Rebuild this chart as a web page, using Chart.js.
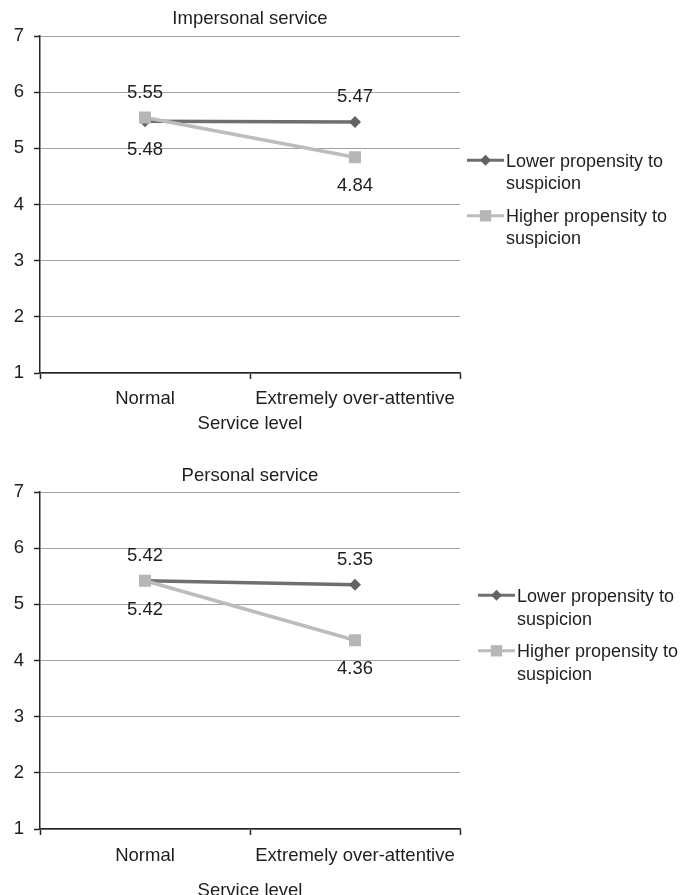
<!DOCTYPE html>
<html>
<head>
<meta charset="utf-8">
<script src="https://cdn.jsdelivr.net/npm/chart.js@4/dist/chart.umd.min.js"></script>
<style>
  html, body { margin: 0; padding: 0; background: #fff; overflow: hidden; }
  #wrap { position: relative; width: 683px; height: 895px; overflow: hidden; }
  canvas { position: absolute; left: 0; }
</style>
</head>
<body>
<div id="wrap">
  <canvas id="impersonal" width="683" height="445" style="top:0"></canvas>
  <canvas id="personal" width="683" height="470" style="top:445px"></canvas>
</div>
<script>
// Categories, series and tick values
const serviceLevels = ['Normal', 'Extremely over-attentive'];
const seriesNames = [['Lower propensity to', 'suspicion'], ['Higher propensity to', 'suspicion']];
const impersonalLower = [5.48, 5.47];
const impersonalHigher = [5.55, 4.84];
const personalLower = [5.42, 5.35];
const personalHigher = [5.42, 4.36];
const yTicks = [1, 2, 3, 4, 5, 6, 7];
const panelTitles = ['Impersonal service', 'Personal service'];
const xAxisTitle = 'Service level';

// Which side of its point each value label sits on
const lowerLabelSide = ['below', 'above'];
const higherLabelSide = ['above', 'below'];

const FONT = '"Liberation Sans", Arial, Helvetica, sans-serif';
const FONT_SIZE = 18.5;
const LEGEND_FONT_SIZE = 18;
const TEXT = '#1e1e1e';
const AXIS = '#262626';
const GRID = '#a3a3a3';
const LOWER_LINE = '#6f6f6f';
const LOWER_MARK = '#636363';
const HIGHER_LINE = '#bcbcbc';
const HIGHER_MARK = '#b6b6b6';

Chart.defaults.font.family = FONT;
Chart.defaults.font.size = FONT_SIZE;
Chart.defaults.color = TEXT;

function drawMarker(ctx, style, x, y, r, color) {
  ctx.save();
  ctx.fillStyle = color;
  ctx.beginPath();
  if (style === 'rectRot') {
    ctx.moveTo(x, y - r);
    ctx.lineTo(x + r, y);
    ctx.lineTo(x, y + r);
    ctx.lineTo(x - r, y);
    ctx.closePath();
  } else {
    const s = r * Math.SQRT1_2;
    ctx.rect(x - s, y - s, 2 * s, 2 * s);
  }
  ctx.fill();
  ctx.restore();
}

// Panel title, value labels and the two-line legend
const panelDecor = {
  id: 'panelDecor',
  afterDatasetsDraw(chart, args, opts) {
    const ctx = chart.ctx;
    const area = chart.chartArea;
    ctx.save();
    ctx.fillStyle = TEXT;
    ctx.font = FONT_SIZE + 'px ' + FONT;

    // title over the plot area
    ctx.textAlign = 'center';
    ctx.textBaseline = 'middle';
    ctx.fillText(opts.title, (area.left + area.right) / 2, opts.titleY);

    // value labels
    chart.data.datasets.forEach((ds, di) => {
      const meta = chart.getDatasetMeta(di);
      meta.data.forEach((pt, i) => {
        const side = ds.labelSide[i];
        const dy = side === 'above' ? opts.labelAbove : opts.labelBelow;
        ctx.fillText(ds.data[i].toFixed(2), pt.x, pt.y + dy);
      });
    });

    // legend
    const lg = opts.legend;
    ctx.font = LEGEND_FONT_SIZE + 'px ' + FONT;
    ctx.textAlign = 'left';
    ctx.textBaseline = 'alphabetic';
    chart.data.datasets.forEach((ds, di) => {
      const base = lg.y + di * lg.entryGap;
      const ly = base - 6.5;
      ctx.strokeStyle = ds.borderColor;
      ctx.lineWidth = 3;
      ctx.beginPath();
      ctx.moveTo(lg.x0, ly);
      ctx.lineTo(lg.x1, ly);
      ctx.stroke();
      const r = ds.pointStyle === 'rectRot' ? 5.5 : 8;
      drawMarker(ctx, ds.pointStyle, (lg.x0 + lg.x1) / 2, ly, r, ds.pointBackgroundColor);
      ctx.fillStyle = TEXT;
      ds.legendLines.forEach((t, k) => {
        ctx.fillText(t, lg.x1 + 2, base + k * lg.lineGap);
      });
    });
    ctx.restore();
  }
};

function makePanel(canvasId, title, lower, higher, lay) {
  return new Chart(document.getElementById(canvasId), {
    type: 'line',
    data: {
      labels: serviceLevels,
      datasets: [
        {
          label: seriesNames[0].join(' '),
          legendLines: seriesNames[0],
          labelSide: lowerLabelSide,
          data: lower,
          borderColor: LOWER_LINE,
          borderWidth: 3.5,
          pointStyle: 'rectRot',
          pointRadius: 6,
          pointBackgroundColor: LOWER_MARK,
          pointBorderColor: LOWER_MARK,
          pointBorderWidth: 0,
          tension: 0,
          order: 1
        },
        {
          label: seriesNames[1].join(' '),
          legendLines: seriesNames[1],
          labelSide: higherLabelSide,
          data: higher,
          borderColor: HIGHER_LINE,
          borderWidth: 3.5,
          pointStyle: 'rect',
          pointRadius: 8.5,
          pointBackgroundColor: HIGHER_MARK,
          pointBorderColor: HIGHER_MARK,
          pointBorderWidth: 0,
          tension: 0,
          order: 0
        }
      ]
    },
    options: {
      responsive: false,
      maintainAspectRatio: false,
      animation: false,
      events: [],
      layout: { padding: { top: lay.top, right: 223, left: 0, bottom: 0 } },
      plugins: {
        legend: { display: false },
        title: { display: false },
        tooltip: { enabled: false },
        panelDecor: {
          title: title,
          titleY: lay.titleY,
          labelAbove: -25,
          labelBelow: 29,
          legend: lay.legend
        }
      },
      scales: {
        x: {
          type: 'category',
          offset: true,
          afterFit: s => { s.height = lay.xHeight; },
          grid: {
            offset: true,
            drawOnChartArea: false,
            drawTicks: true,
            tickLength: 6,
            tickColor: AXIS,
            tickWidth: 1.5
          },
          border: { display: true, color: AXIS, width: 1.5 },
          ticks: { color: TEXT, padding: lay.xLabelPad, maxRotation: 0, autoSkip: false, font: { size: FONT_SIZE } },
          title: {
            display: true,
            text: xAxisTitle,
            color: TEXT,
            font: { size: FONT_SIZE },
            padding: { top: 0, bottom: lay.xTitlePad }
          }
        },
        y: {
          min: yTicks[0],
          max: yTicks[yTicks.length - 1],
          afterFit: s => { s.width = 40; },
          afterBuildTicks: s => { s.ticks = yTicks.map(v => ({ value: v })); },
          grid: {
            color: GRID,
            lineWidth: 1,
            drawTicks: true,
            tickLength: 6,
            tickColor: AXIS,
            tickWidth: 1.5
          },
          border: { display: true, color: AXIS, width: 1.5 },
          ticks: { color: TEXT, padding: 10, font: { size: FONT_SIZE } }
        }
      }
    },
    plugins: [panelDecor]
  });
}

makePanel('impersonal', panelTitles[0], impersonalLower, impersonalHigher, {
  top: 36, xHeight: 72, xLabelPad: 9, xTitlePad: 10, titleY: 19,
  legend: { x0: 467, x1: 504, y: 166.7, lineGap: 22, entryGap: 55.6 }
});

makePanel('personal', panelTitles[1], personalLower, personalHigher, {
  top: 47, xHeight: 86, xLabelPad: 10, xTitlePad: 13, titleY: 31,
  legend: { x0: 478, x1: 515, y: 156.7, lineGap: 23, entryGap: 55.6 }
});
</script>
</body>
</html>
